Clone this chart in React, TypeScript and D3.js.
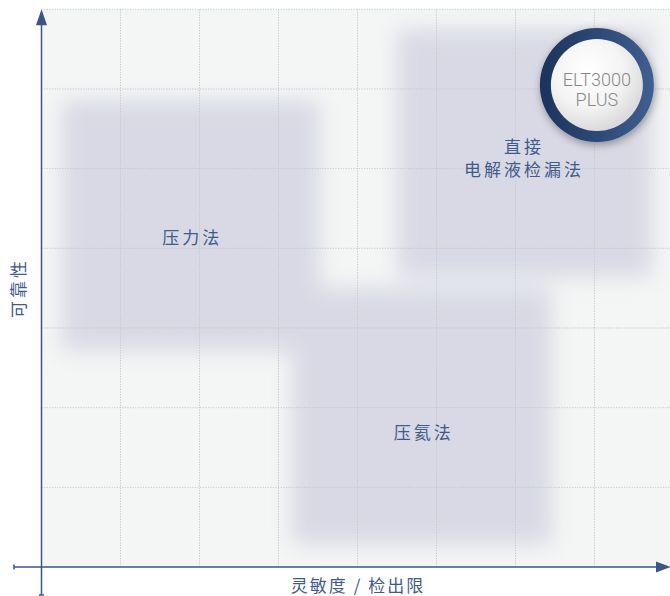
import React from "react";
import * as d3 from "d3";

// Chart data (grid units)
const methods = ["压力法", "直接\n电解液检漏法", "压氦法"];
const xStart = [0.26, 4.5, 3.17];
const xEnd = [3.52, 7.73, 6.46];
const yLow = [2.71, 3.64, 0.28];
const yHigh = [5.86, 6.75, 3.5];
const labelX = [1.89, 6.09, 4.82];
const labelY = [4.16, 5.3, 1.71];

const gridX = [1, 2, 3, 4, 5, 6, 7];
const gridY = [1, 2, 3, 4, 5, 6, 7];

const badgeLines = ["ELT3000", "PLUS"];
const badgeX = 7.03;
const badgeY = 6.05;

const xTitle = "灵敏度 / 检出限";
const yTitle = "可靠性";

const W = 670;
const H = 596;
const navy = "#3b5586";
const textNavy = "#3f5b8c";
const cjk = "'Noto Sans CJK SC', 'Noto Sans', sans-serif";

export default function App() {
  const x = d3.scaleLinear().domain([0, 8]).range([41.5, 673.5]);
  const y = d3.scaleLinear().domain([0, 7]).range([567, 9.3]);

  const x0 = x(0);
  const y0 = y(0);
  const top = y(7);
  const bx = x(badgeX);
  const by = y(badgeY);

  return (
    <svg
      width={W}
      height={H}
      style={{ position: "absolute", left: 0, top: 0, background: "#fff" }}
    >
      <defs>
        <filter id="soft" x="-30%" y="-30%" width="160%" height="160%">
          <feGaussianBlur stdDeviation="11" />
        </filter>
        <filter id="badgeShadow" x="-40%" y="-40%" width="180%" height="180%">
          <feGaussianBlur in="SourceAlpha" stdDeviation="4" />
          <feOffset dx="1" dy="3" result="b" />
          <feComponentTransfer>
            <feFuncA type="linear" slope="0.35" />
          </feComponentTransfer>
          <feMerge>
            <feMergeNode />
            <feMergeNode in="SourceGraphic" />
          </feMerge>
        </filter>
        <linearGradient id="ring" x1="0" y1="0" x2="1" y2="0">
          <stop offset="0%" stopColor="#1c335c" />
          <stop offset="100%" stopColor="#3f5f90" />
        </linearGradient>
        <radialGradient id="face" cx="40%" cy="35%" r="70%">
          <stop offset="0%" stopColor="#ffffff" />
          <stop offset="55%" stopColor="#f4f4f4" />
          <stop offset="100%" stopColor="#d6d6d6" />
        </radialGradient>
      </defs>

      {/* plot background */}
      <rect x={x0} y={top} width={W - x0} height={y0 - top} fill="#f4f6f5" />

      {/* blurred method regions */}
      <g filter="url(#soft)">
        {methods.map((m, i) => (
          <rect
            key={m}
            x={x(xStart[i])}
            y={y(yHigh[i])}
            width={x(xEnd[i]) - x(xStart[i])}
            height={y(yLow[i]) - y(yHigh[i])}
            fill="#d8d9e4"
          />
        ))}
      </g>

      {/* grid */}
      <g stroke="#c5c8ca" strokeWidth={1} strokeDasharray="1.2 1.4">
        {gridX.map((g) => (
          <line key={"gx" + g} x1={x(g)} x2={x(g)} y1={top} y2={y0} />
        ))}
        {gridY.map((g) => (
          <line key={"gy" + g} x1={x0} x2={W} y1={y(g)} y2={y(g)} />
        ))}
      </g>

      {/* labels */}
      {methods.map((m, i) => (
        <text
          key={"l" + m}
          x={x(labelX[i])}
          y={y(labelY[i])}
          textAnchor="middle"
          dominantBaseline="central"
          fill={textNavy}
          fontFamily={cjk}
          fontSize={17}
          letterSpacing={3}
        >
          {m.split("\n").map((line, j) => (
            <tspan key={j} x={x(labelX[i]) + 1.5} dy={j === 0 ? 0 : 23}>
              {line}
            </tspan>
          ))}
        </text>
      ))}

      {/* axes */}
      <g stroke={navy} strokeWidth={1.5} fill="none">
        <line x1={x0} x2={x0} y1={top + 14} y2={595} />
        <line x1={x0 - 2.5} x2={x0 + 2.5} y1={595} y2={595} />
        <line x1={14} x2={W - 12} y1={y0} y2={y0} />
        <line x1={14} x2={14} y1={y0 - 2.5} y2={y0 + 2.5} />
      </g>
      <path
        d={`M${x0},${top} L${x0 + 5.5},${top + 16} L${x0 - 5.5},${top + 16} Z`}
        fill={navy}
      />
      <path
        d={`M${W + 1},${y0} L${W - 14},${y0 - 5.5} L${W - 14},${y0 + 5.5} Z`}
        fill={navy}
      />

      {/* axis titles */}
      <text
        x={358}
        y={584.5}
        textAnchor="middle"
        dominantBaseline="central"
        fill={textNavy}
        fontFamily={cjk}
        fontSize={17}
        letterSpacing={2}
      >
        {xTitle}
      </text>
      <text
        transform={`translate(17,288) rotate(-90)`}
        textAnchor="middle"
        dominantBaseline="central"
        fill={textNavy}
        fontFamily={cjk}
        fontSize={17}
        letterSpacing={3}
      >
        {yTitle}
      </text>

      {/* badge */}
      <g filter="url(#badgeShadow)">
        <circle cx={bx} cy={by} r={57} fill="url(#ring)" />
      </g>
      <circle cx={bx} cy={by} r={46} fill="url(#face)" />
      {badgeLines.map((t, i) => (
        <text
          key={t}
          x={bx}
          y={by + 1 + i * 20}
          textAnchor="middle"
          fill="#888888"
          fontFamily="Roboto, 'Open Sans', sans-serif"
          fontWeight={300}
          fontSize={18}
        >
          {t}
        </text>
      ))}
    </svg>
  );
}
